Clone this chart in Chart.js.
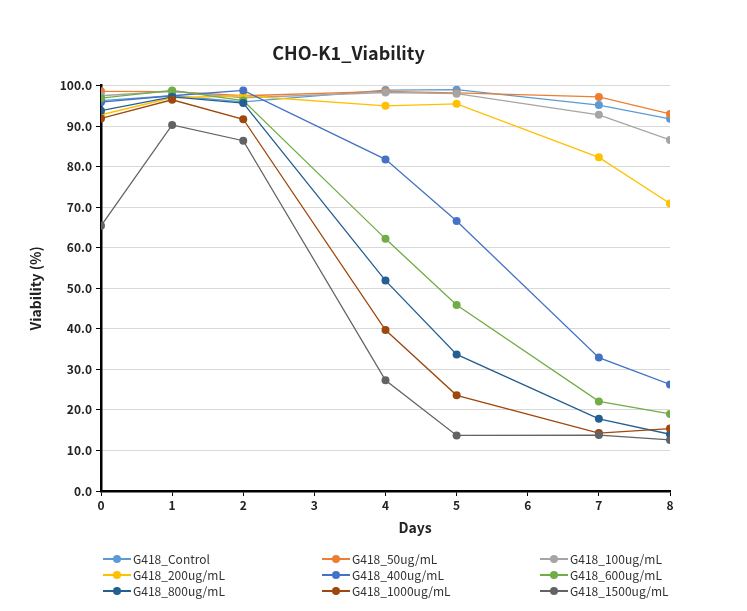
<!DOCTYPE html>
<html>
<head>
<meta charset="utf-8">
<script src="https://cdn.jsdelivr.net/npm/chart.js@4.4.0/dist/chart.umd.min.js"></script>
<style>
body { margin: 0; background: #fff; }
#wrap { position: relative; width: 747px; height: 611px; }
#box { position: absolute; left: 0; top: 0; width: 747px; height: 545px; }
#legend { position: absolute; left: 0; top: 0; width: 747px; height: 611px; pointer-events: none; }
.item { position: absolute; font-family: "Noto Sans CJK KR", "Noto Sans", sans-serif; font-size: 12px; color: #333; line-height: 16px; white-space: nowrap; }
.item .ln { position: absolute; left: -30px; top: 7px; width: 28px; height: 1.5px; }
.item .dot { position: absolute; left: -20px; top: 4px; width: 8px; height: 8px; border-radius: 50%; }
</style>
</head>
<body>
<div id="wrap">
  <div id="box"><canvas id="myChart"></canvas></div>
  <div id="legend"></div>
</div>
<script>
var days = [0, 1, 2, 4, 5, 7, 8];
var seriesNames = ["G418_Control", "G418_50ug/mL", "G418_100ug/mL",
                   "G418_200ug/mL", "G418_400ug/mL", "G418_600ug/mL",
                   "G418_800ug/mL", "G418_1000ug/mL", "G418_1500ug/mL"];
var control = [96.3, 97.5, 96.0, 98.9, 99.0, 95.2, 91.8];
var ug50    = [98.6, 98.5, 97.5, 98.6, 98.2, 97.2, 93.0];
var ug100   = [97.5, 98.6, 97.0, 98.3, 98.0, 92.8, 86.6];
var ug200   = [92.8, 97.0, 97.5, 95.0, 95.5, 82.3, 70.9];
var ug400   = [95.9, 97.5, 98.8, 81.8, 66.6, 32.9, 26.3];
var ug600   = [96.9, 98.8, 96.3, 62.2, 45.9, 22.1, 19.0];
var ug800   = [93.8, 97.2, 95.7, 51.9, 33.7, 17.8, 14.0];
var ug1000  = [91.9, 96.5, 91.7, 39.7, 23.6, 14.3, 15.4];
var ug1500  = [65.4, 90.3, 86.4, 27.3, 13.7, 13.8, 12.6];
var allSeries = [control, ug50, ug100, ug200, ug400, ug600, ug800, ug1000, ug1500];
var lineColors = ["#5B9BD5", "#ED7D31", "#A5A5A5", "#FFC000", "#4472C4",
                  "#70AD47", "#255E91", "#9E480E", "#636363"];

var FONT = "'Noto Sans CJK KR', 'Noto Sans', sans-serif";

var datasets = [];
for (var i = 0; i < allSeries.length; i++) {
    var pts = [];
    for (var j = 0; j < days.length; j++) {
        pts.push({x: days[j], y: allSeries[i][j]});
    }
    datasets.push({
        label: seriesNames[i],
        data: pts,
        borderColor: lineColors[i],
        backgroundColor: lineColors[i],
        borderWidth: 1.3,
        pointRadius: 4,
        pointBorderWidth: 0,
        order: allSeries.length - i
    });
}

// x axis title sits a bit right of centre in the original, so draw it by hand
var daysTitle = {
    id: "daysTitle",
    afterDraw: function (chart) {
        var ctx = chart.ctx;
        ctx.save();
        ctx.font = "bold 14px " + FONT;
        ctx.fillStyle = "#222";
        ctx.textAlign = "center";
        ctx.textBaseline = "middle";
        ctx.fillText("Days", chart.chartArea.left + 314, chart.chartArea.bottom + 37);
        ctx.restore();
    }
};

new Chart("myChart", {
    type: "line",
    data: { datasets: datasets },
    plugins: [daysTitle],
    options: {
        responsive: true,
        maintainAspectRatio: false,
        animation: false,
        layout: { padding: { left: 27, right: 77, top: 0, bottom: 0 } },
        plugins: {
            legend: { display: false },
            tooltip: { enabled: false },
            title: {
                display: true,
                text: "CHO-K1_Viability",
                color: "#222",
                font: { family: FONT, size: 18, weight: "bold" },
                padding: { top: 42, bottom: 22 }
            }
        },
        scales: {
            x: {
                type: "linear",
                min: 0, max: 8,
                ticks: { stepSize: 1, color: "#222", font: { family: FONT, size: 12, weight: "bold" }, padding: 2 },
                grid: { drawOnChartArea: false, drawTicks: true, tickLength: 5, tickColor: "#000" },
                border: { color: "#000", width: 2.5 },
                afterFit: function (s) { s.height = 54; }
            },
            y: {
                min: 0, max: 100,
                ticks: {
                    stepSize: 10, color: "#222", padding: 4,
                    font: { family: FONT, size: 12, weight: "bold" },
                    callback: function (v) { return v.toFixed(1); }
                },
                grid: { color: "#d9d9d9", tickColor: "#000", tickLength: 5 },
                border: { color: "#000", width: 2.5 },
                title: { display: true, text: "Viability (%)", color: "#222", font: { family: FONT, size: 14, weight: "bold" }, padding: 0 },
                afterFit: function (s) { s.width = 74; }
            }
        }
    }
});

// legend in three columns, like the original
var colX = [133, 352, 570];
var rowY = [551, 567, 583];
var legend = document.getElementById("legend");
for (var k = 0; k < seriesNames.length; k++) {
    var d = document.createElement("div");
    d.className = "item";
    d.style.left = colX[k % 3] + "px";
    d.style.top = rowY[Math.floor(k / 3)] + "px";
    d.innerHTML = '<span class="ln" style="background:' + lineColors[k] + '"></span>' +
                  '<span class="dot" style="background:' + lineColors[k] + '"></span>' + seriesNames[k];
    legend.appendChild(d);
}
</script>
</body>
</html>
